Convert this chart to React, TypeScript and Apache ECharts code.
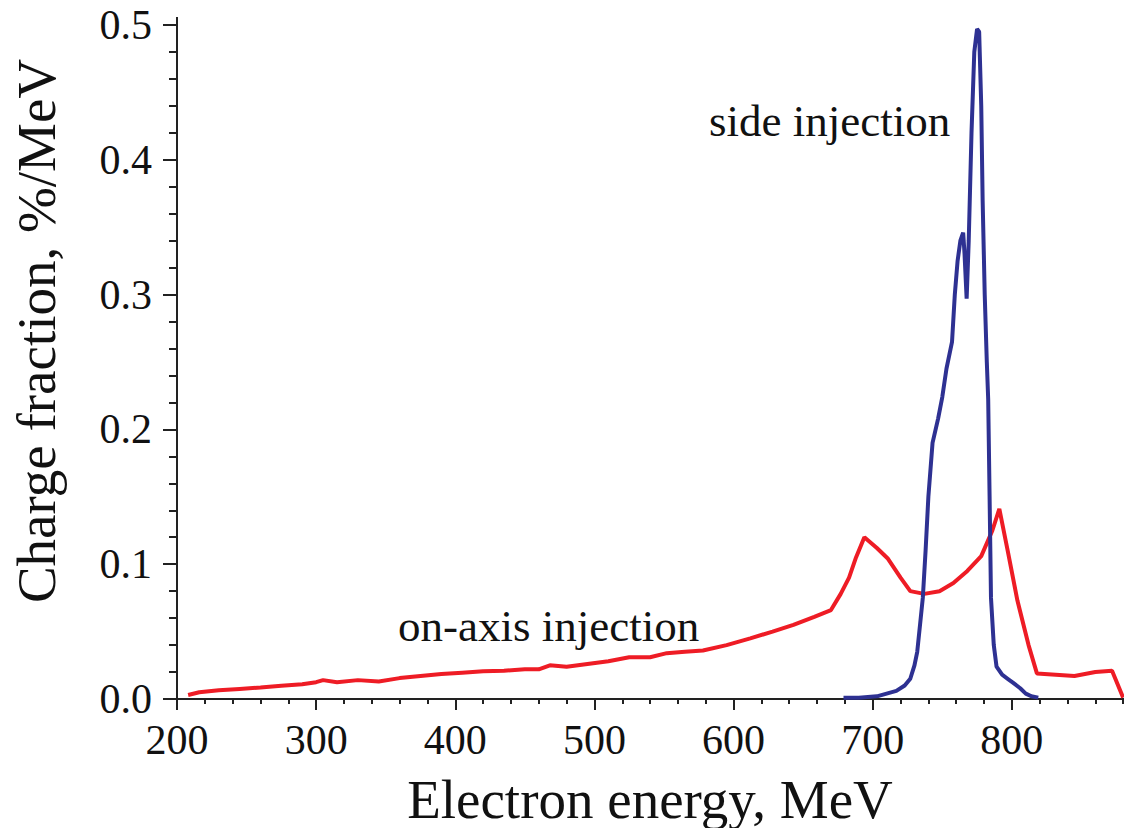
import React, { useEffect, useRef } from "react";
import * as echarts from "echarts";

// On-axis injection (red) – energy MeV, charge fraction %/MeV
const onAxisEnergy = [
  208, 216, 230, 245, 260, 275, 290, 300, 305, 315, 330, 345, 360, 375, 390, 405,
  420, 435, 450, 460, 468, 480, 495, 510, 525, 540, 552, 565, 578, 595, 612, 628,
  643, 658, 670, 677, 683, 688, 694, 703, 711, 720, 727, 737, 748, 758, 768, 778,
  786, 791, 797, 804, 812, 818, 845, 860, 872, 880,
];
const onAxisCharge = [
  0.003, 0.005, 0.0065, 0.0075, 0.0085, 0.0098, 0.011, 0.0125, 0.014, 0.0125, 0.014,
  0.013, 0.0155, 0.017, 0.0185, 0.0195, 0.0205, 0.021, 0.022, 0.022, 0.025, 0.024,
  0.026, 0.028, 0.031, 0.031, 0.034, 0.035, 0.036, 0.04, 0.045, 0.05, 0.055, 0.061,
  0.066, 0.078, 0.09, 0.105, 0.12, 0.112, 0.104, 0.09, 0.08, 0.078, 0.08, 0.086,
  0.095, 0.106, 0.125, 0.141, 0.11, 0.073, 0.04, 0.019, 0.017, 0.02, 0.021, 0.001,
];

// Side injection (blue)
const sideEnergy = [
  679, 690, 703, 710, 717, 723, 727, 730, 732, 734, 736, 738, 740, 743, 747, 750,
  753, 757, 759, 761, 763, 765, 766, 767.5, 769, 771, 773, 775, 776.5, 778, 779,
  780.5, 782, 783, 784, 785, 787, 789, 793, 797, 801, 806, 810, 814, 819,
];
const sideCharge = [
  0.001, 0.001, 0.002, 0.004, 0.006, 0.01, 0.015, 0.025, 0.035, 0.055, 0.075, 0.11,
  0.15, 0.19, 0.208, 0.224, 0.245, 0.265, 0.3, 0.325, 0.34, 0.346, 0.33, 0.297, 0.34,
  0.42, 0.48, 0.497, 0.495, 0.44, 0.37, 0.3, 0.25, 0.222, 0.15, 0.075, 0.04, 0.024,
  0.018, 0.015, 0.012, 0.008, 0.004, 0.002, 0.001,
];

const xTitle = "Electron energy, MeV";
const yTitle = "Charge fraction, %/MeV";
const sideLabel = "side injection";
const onAxisLabel = "on-axis injection";

const FONT = "'Liberation Serif', 'Times New Roman', serif";
const AXIS_COLOR = "#222";

export default function App() {
  const ref = useRef<HTMLDivElement>(null);

  useEffect(() => {
    if (!ref.current) return;
    const chart = echarts.init(ref.current, undefined, { renderer: "svg" });

    const red = onAxisEnergy.map((x, i) => [x, onAxisCharge[i]]);
    const blue = sideEnergy.map((x, i) => [x, sideCharge[i]]);

    chart.setOption({
      animation: false,
      backgroundColor: "#fff",
      grid: { left: 177, width: 974, top: 25, height: 674, outerBoundsMode: "none", containLabel: false },
      xAxis: {
        type: "value",
        min: 200,
        max: 900,
        interval: 100,
        axisLine: { show: true, onZero: false, lineStyle: { color: AXIS_COLOR, width: 2 } },
        axisTick: { show: true, inside: false, length: 11, lineStyle: { color: AXIS_COLOR, width: 2 } },
        minorTick: { show: true, splitNumber: 5, length: 5, lineStyle: { color: AXIS_COLOR, width: 2 } },
        splitLine: { show: false },
        axisLabel: {
          fontFamily: FONT,
          fontSize: 42,
          color: "#111",
          margin: 20,
          formatter: (v: number) => (v <= 800 ? String(v) : ""),
        },
        name: xTitle,
        nameLocation: "middle",
        nameGap: 76,
        nameTextStyle: {
          fontFamily: FONT,
          fontSize: 55,
          lineHeight: 48,
          color: "#111",
          padding: [0, 28, 0, 0],
        },
      },
      yAxis: {
        type: "value",
        min: 0,
        max: 0.5,
        interval: 0.1,
        axisLine: { show: true, onZero: false, lineStyle: { color: AXIS_COLOR, width: 2 } },
        axisTick: { show: true, inside: false, length: 14, lineStyle: { color: AXIS_COLOR, width: 2 } },
        minorTick: { show: true, splitNumber: 5, length: 8, lineStyle: { color: AXIS_COLOR, width: 2 } },
        splitLine: { show: false },
        axisLabel: {
          fontFamily: FONT,
          fontSize: 42,
          color: "#111",
          margin: 25,
          formatter: (v: number) => v.toFixed(1),
        },
      },
      graphic: [
        {
          type: "line",
          shape: { x1: 177, y1: 17, x2: 177, y2: 26 },
          style: { stroke: AXIS_COLOR, lineWidth: 2 },
        },
        {
          type: "text",
          x: 36,
          y: 331,
          rotation: Math.PI / 2,
          style: {
            text: yTitle,
            fontFamily: FONT,
            fontSize: 55,
            fill: "#111",
            align: "center",
            verticalAlign: "middle",
          },
        },
        {
          type: "text",
          x: 709,
          y: 121,
          style: {
            text: sideLabel,
            fontFamily: FONT,
            fontSize: 45,
            fill: "#111",
            align: "left",
            verticalAlign: "middle",
          },
        },
        {
          type: "text",
          x: 398,
          y: 626,
          style: {
            text: onAxisLabel,
            fontFamily: FONT,
            fontSize: 45,
            fill: "#111",
            align: "left",
            verticalAlign: "middle",
          },
        },
      ],
      series: [
        {
          type: "line",
          data: red,
          showSymbol: false,
          symbol: "none",
          lineStyle: { color: "#ee1c25", width: 4 },
          z: 3,
        },
        {
          type: "line",
          data: blue,
          showSymbol: false,
          symbol: "none",
          lineStyle: { color: "#2e3192", width: 4 },
          z: 4,
        },
      ],
    });

    return () => chart.dispose();
  }, []);

  return (
    <div
      ref={ref}
      style={{ position: "absolute", left: 0, top: 0, width: 1124, height: 828 }}
    />
  );
}
